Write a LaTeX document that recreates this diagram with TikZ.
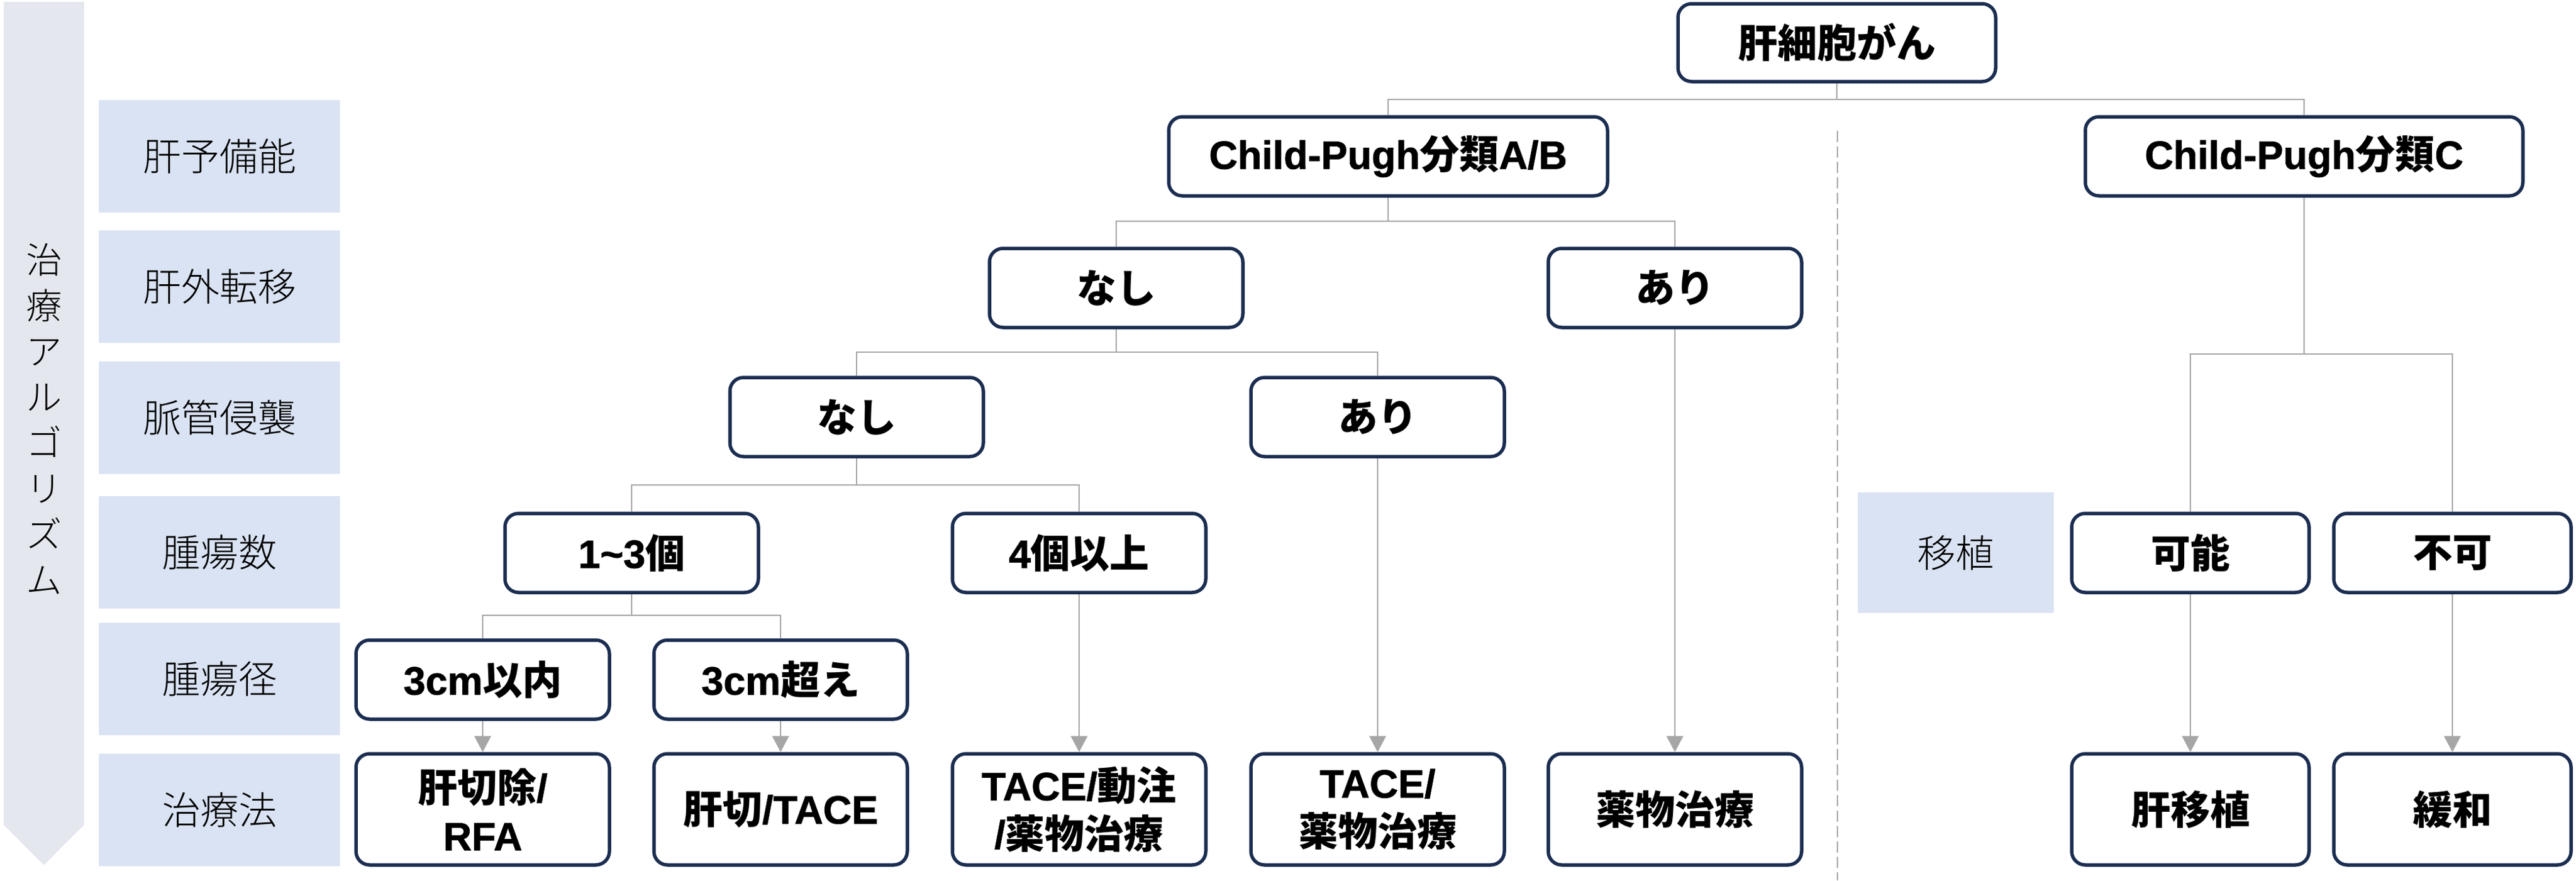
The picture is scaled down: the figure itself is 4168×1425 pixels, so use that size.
\documentclass[tikz,border=0pt]{standalone}
\usepackage{fontspec}
\setmainfont{Noto Sans CJK JP}
\IfFontExistsTF{Noto Sans CJK JP Light}
  {\newfontfamily\labf{Noto Sans CJK JP Light}}
  {\IfFontExistsTF{Noto Sans CJK JP DemiLight}
     {\newfontfamily\labf{Noto Sans CJK JP DemiLight}}
     {\newfontfamily\labf{Noto Sans CJK JP}}}
\newfontfamily\latf{Liberation Sans}[BoldFeatures={FakeBold=1.2}]
\newcommand\LT[1]{{\latf\bfseries #1}}
\usetikzlibrary{arrows.meta}
\definecolor{navy}{HTML}{1B2D50}
\definecolor{conngray}{HTML}{A6A6A6}
\definecolor{labbg}{HTML}{DAE3F3}
\definecolor{bandbg}{HTML}{E4E8EE}
\begin{document}
\begin{tikzpicture}[x=1pt,y=-1pt,
  box/.style={draw=navy, line width=5.5pt, rounded corners=22pt, fill=white,
    minimum width=410pt, minimum height=128pt, align=center, inner sep=0pt,
    font=\fontsize{64}{78}\selectfont\bfseries},
  tall/.style={box, minimum height=180pt},
  lab/.style={fill=labbg, minimum width=390pt, minimum height=182pt, inner sep=0pt,
    font=\labf\fontsize{62}{74}\selectfont},
  conn/.style={draw=conngray, line width=2.5pt},
  arr/.style={conn, -{Triangle[width=27pt,length=26pt]}}]
\useasboundingbox (0,0) rectangle (4168,1425);
% left band
\fill[bandbg] (6,3) -- (136,3) -- (136,1335) -- (71,1400) -- (6,1335) -- cycle;
\node[font=\labf\fontsize{58}{74}\selectfont, align=center, inner sep=0pt] (vt) at (71,678)
  {治\\療\\ア\\ル\\ゴ\\リ\\ズ\\ム};
% row labels
\node[lab] (L1) at (355,252.5) {肝予備能};
\node[lab] (L2) at (355,464) {肝外転移};
\node[lab] (L3) at (355,675.5) {脈管侵襲};
\node[lab] (L4) at (355,893.5) {腫瘍数};
\node[lab] (L5) at (355,1099) {腫瘍径};
\node[lab] (L6) at (355,1310.5) {治療法};
\node[lab, minimum width=317pt, minimum height=195pt] (L7) at (3164.5,894.5) {移植};
% separator
\coordinate (d1) at (2973,212);
\coordinate (d2) at (2973,1425);
\draw[draw=conngray, line width=2pt, dash pattern=on 18pt off 7pt] (d1) -- (d2);
% nodes
\node[box, minimum width=514pt, minimum height=126pt] (root) at (2972,69) {肝細胞がん};
\node[box, minimum width=710pt] (cpab) at (2246,253) {\LT{Child-Pugh}分類\LT{A/B}};
\node[box, minimum width=708pt] (cpc) at (3728,253) {\LT{Child-Pugh}分類\LT{C}};
\node[box] (n2) at (1806,466) {なし};
\node[box] (a2) at (2710,466) {あり};
\node[box] (n3) at (1386,675) {なし};
\node[box] (a3) at (2229,675) {あり};
\node[box] (c13) at (1022,895) {\LT{1\textasciitilde3}個};
\node[box] (c4) at (1746,895) {\LT{4}個以上};
\node[box] (s3) at (781,1100) {\LT{3cm}以内};
\node[box] (s3b) at (1263,1100) {\LT{3cm}超え};
\node[tall] (t1) at (781,1310) {肝切除\LT{/}\\\LT{RFA}};
\node[tall] (t2) at (1263,1310) {肝切\LT{/TACE}};
\node[tall] (t3) at (1746,1310) {\LT{TACE/}動注\\\LT{/}薬物治療};
\node[tall] (t4) at (2229,1310) {\LT{TACE/}\\薬物治療};
\node[tall] (t5) at (2710,1310) {薬物治療};
\node[box, minimum width=384pt] (kano) at (3544,895) {可能};
\node[box, minimum width=384pt] (fuka) at (3968,895) {不可};
\node[tall, minimum width=384pt] (t6) at (3544,1310) {肝移植};
\node[tall, minimum width=384pt] (t7) at (3968,1310) {緩和};
% junctions
\coordinate (j0) at (2972,161);
\coordinate (j1) at (2246,358);
\coordinate (j2) at (1806,570);
\coordinate (j3) at (1386,785);
\coordinate (j4) at (1022,996);
\coordinate (j5) at (3728,573);
% connectors
\draw[conn] (root.south) -- (j0);
\draw[conn] (j0) -| (cpab.north);
\draw[conn] (j0) -| (cpc.north);
\draw[conn] (cpab.south) -- (j1);
\draw[conn] (j1) -| (n2.north);
\draw[conn] (j1) -| (a2.north);
\draw[conn] (n2.south) -- (j2);
\draw[conn] (j2) -| (n3.north);
\draw[conn] (j2) -| (a3.north);
\draw[conn] (n3.south) -- (j3);
\draw[conn] (j3) -| (c13.north);
\draw[conn] (j3) -| (c4.north);
\draw[conn] (c13.south) -- (j4);
\draw[conn] (j4) -| (s3.north);
\draw[conn] (j4) -| (s3b.north);
\draw[conn] (cpc.south) -- (j5);
\draw[conn] (j5) -| (kano.north);
\draw[conn] (j5) -| (fuka.north);
% arrows
\draw[arr] (s3.south) -- (t1.north);
\draw[arr] (s3b.south) -- (t2.north);
\draw[arr] (c4.south) -- (t3.north);
\draw[arr] (a3.south) -- (t4.north);
\draw[arr] (a2.south) -- (t5.north);
\draw[arr] (kano.south) -- (t6.north);
\draw[arr] (fuka.south) -- (t7.north);
\end{tikzpicture}
\end{document}
